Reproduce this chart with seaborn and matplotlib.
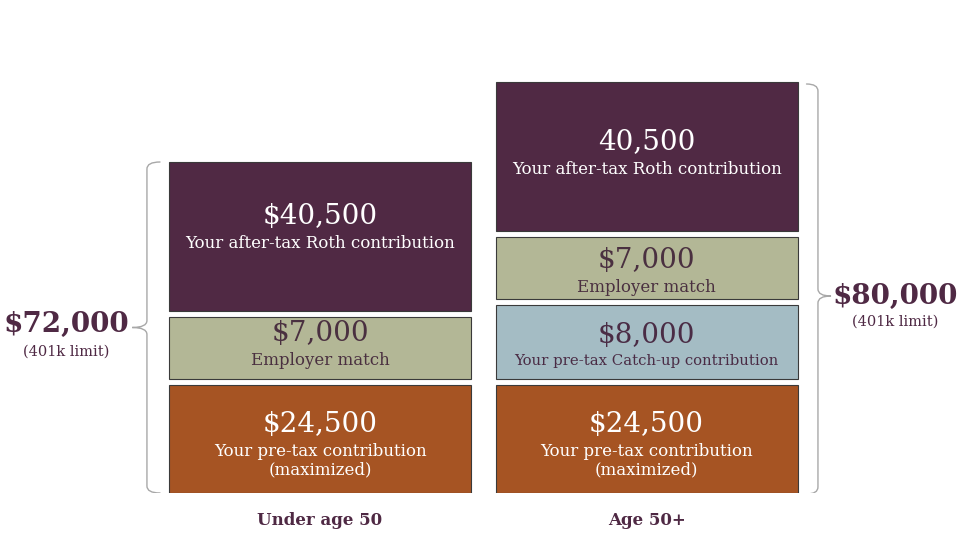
import matplotlib.pyplot as plt
from matplotlib.path import Path
from matplotlib.patches import PathPatch
import pandas as pd
import seaborn as sns

# ---- data ----
groups = ['Under age 50', 'Age 50+']
group_totals = ['$72,000', '$80,000']
limit_note = '(401k limit)'

# segments listed bottom -> top
under50_segments = ['pretax', 'match', 'roth']
under50_amounts = [24500, 7000, 40500]
under50_labels = ['$24,500', '$7,000', '$40,500']

age50_segments = ['pretax', 'catchup', 'match', 'roth']
age50_amounts = [24500, 8000, 7000, 40500]
age50_labels = ['$24,500', '$8,000', '$7,000', '40,500']

descriptions = {
    'pretax': 'Your pre-tax contribution\n(maximized)',
    'catchup': 'Your pre-tax Catch-up contribution',
    'match': 'Employer match',
    'roth': 'Your after-tax Roth contribution',
}

# ---- styling / layout (the slide draws boxes sized for text, not to scale) ----
box_height = {'pretax': 108, 'catchup': 74, 'match': 62, 'roth': 149}
box_gap = 6
fills = {'pretax': '#A65423', 'catchup': '#A4BCC4', 'match': '#B3B796', 'roth': '#502944'}
text_colors = {'pretax': '#FFFFFF', 'catchup': '#4A2C45', 'match': '#4A3040', 'roth': '#FFFFFF'}
desc_size = {'pretax': 12, 'catchup': 10.7, 'match': 12, 'roth': 12}
# small nudges of the text inside some boxes, as on the slide
text_nudge = {('Under age 50', 'roth'): 5, ('Age 50+', 'match'): -7,
              ('Age 50+', 'catchup'): -8}
dark = '#4F2944'
brace_color = '#A8A8A8'

rows = []
for grp, segs, amts, labs in [(groups[0], under50_segments, under50_amounts, under50_labels),
                              (groups[1], age50_segments, age50_amounts, age50_labels)]:
    bottom = 0
    for seg, amt, lab in zip(segs, amts, labs):
        rows.append(dict(group=grp, segment=seg, amount=amt, label=lab,
                         bottom=bottom, height=box_height[seg]))
        bottom += box_height[seg] + box_gap
df = pd.DataFrame(rows)

sns.set_theme(style='white')
plt.rcParams['font.family'] = ['DejaVu Serif']

fig = plt.figure(figsize=(9.6, 5.4), dpi=100)
ax = fig.add_axes([0, 47 / 540, 1, 493 / 540])

bar_w = 0.925
for _, r in df.iterrows():
    sns.barplot(x=[r['group']], y=[r['height']], order=groups, bottom=r['bottom'],
                color=fills[r['segment']], saturation=1, width=bar_w,
                edgecolor='#3a3a3a', linewidth=0.8, errorbar=None, ax=ax)

for _, r in df.iterrows():
    xi = groups.index(r['group'])
    yc = r['bottom'] + r['height'] / 2 + text_nudge.get((r['group'], r['segment']), 0)
    tc = text_colors[r['segment']]
    ax.text(xi, yc + 1, r['label'], ha='center', va='bottom', fontsize=20, color=tc)
    ax.text(xi, yc - 4, descriptions[r['segment']], ha='center', va='top',
            fontsize=desc_size[r['segment']], color=tc, linespacing=1.1)


def brace(ax, x, y0, y1, arm, tip, direction, shift=0):
    # direction -1: tip points left, +1: tip points right
    ym = (y0 + y1) / 2 + shift
    rad = 7
    xa = x - direction * arm
    xt = x + direction * tip
    verts = [(xa, y1), (x, y1), (x, y1 - rad),
             (x, ym + rad),
             (x, ym), (xt, ym),
             (x, ym), (x, ym - rad),
             (x, y0 + rad),
             (x, y0), (xa, y0)]
    codes = [Path.MOVETO, Path.CURVE3, Path.CURVE3,
             Path.LINETO,
             Path.CURVE3, Path.CURVE3,
             Path.CURVE3, Path.CURVE3,
             Path.LINETO,
             Path.CURVE3, Path.CURVE3]
    ax.add_patch(PathPatch(Path(verts, codes), fill=False, edgecolor=brace_color,
                           linewidth=1.0, capstyle='round'))
    return ym


tops = df.groupby('group', sort=False).apply(lambda d: (d['bottom'] + d['height']).max())

# left brace and total
ym = brace(ax, -0.53, 0, tops[groups[0]], 0.04, 0.045, -1)
ax.text(-0.778, ym + 3, group_totals[0], ha='center', va='center', fontsize=20,
        fontweight='bold', color=dark)
ax.text(-0.778, ym - 17, limit_note, ha='center', va='top', fontsize=10.5, color=dark)

# right brace and total
ym = brace(ax, 1.525, -1, tops[groups[1]] - 2, 0.035, 0.04, 1, shift=-7)
ax.text(1.761, ym, group_totals[1], ha='center', va='center', fontsize=20,
        fontweight='bold', color=dark)
ax.text(1.761, ym - 19, limit_note, ha='center', va='top', fontsize=10.5, color=dark)

ax.set_xlim(-0.980, 1.960)
ax.set_ylim(0, 493)
ax.set(xlabel=None, ylabel=None, yticks=[])
sns.despine(ax=ax, left=True, bottom=True)
ax.tick_params(axis='x', length=0, pad=14, labelsize=12, labelcolor=dark)
for t in ax.get_xticklabels():
    t.set_fontweight('bold')

fig.savefig('out.png', dpi=100, facecolor='white')
